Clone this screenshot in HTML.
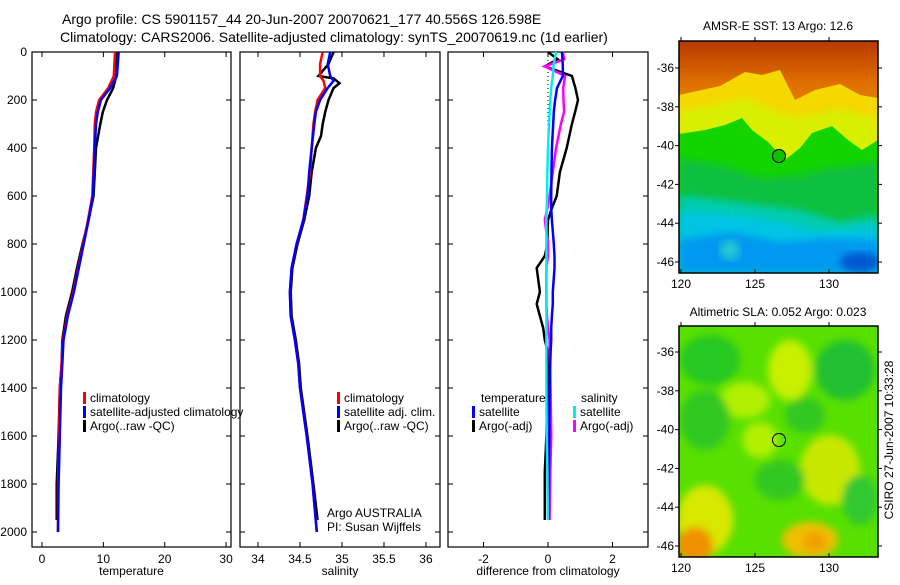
<!DOCTYPE html>
<html><head><meta charset="utf-8"><style>
body{margin:0;background:#fff;}
svg text{font-family:"Liberation Sans",sans-serif;fill:#000;}
</style></head><body>
<svg id="fig" width="900" height="580" viewBox="0 0 900 580" xmlns="http://www.w3.org/2000/svg">
<defs>
<linearGradient id="g1" x1="0" y1="0" x2="0" y2="1"><stop offset="0" stop-color="#b83800"/><stop offset="0.35" stop-color="#e07000"/><stop offset="1" stop-color="#f4a000"/></linearGradient>
<clipPath id="c1"><rect x="679" y="41" width="199" height="232"/></clipPath>
<clipPath id="c2"><rect x="679" y="326" width="199" height="231"/></clipPath>
<filter id="bl"><feGaussianBlur stdDeviation="4"/></filter>
</defs>
<text x="62" y="24" font-size="14">Argo profile: CS 5901157_44 20-Jun-2007 20070621_177 40.556S 126.598E</text>
<text x="60" y="42" font-size="14">Climatology: CARS2006. Satellite-adjusted climatology: synTS_20070619.nc (1d earlier)</text>
<g id="panels"></g>
<!-- Map 1 -->
<g clip-path="url(#c1)">
<rect x="679" y="41" width="199" height="120" fill="url(#g1)"/>
<path d="M679,95 L720,86 L745,72 L762,75 L780,70 L795,100 L815,90 L840,84 L860,95 L878,98 L878,273 L679,273Z" fill="#f4d800"/>
<path d="M679,112 L720,104 L745,98 L770,110 L795,118 L840,110 L878,118 L878,273 L679,273Z" fill="#d8f000" filter="url(#bl)"/>
<path d="M679,134 L705,130 L725,125 L742,118 L752,130 L768,142 L785,160 L800,148 L812,133 L832,126 L848,140 L862,150 L878,140 L878,273 L679,273Z" fill="#14d400"/>
<path d="M679,158 L720,165 L760,178 L800,175 L830,168 L878,162 L878,273 L679,273Z" fill="#10c040" filter="url(#bl)"/>
<path d="M679,195 L720,200 L760,205 L800,210 L840,222 L878,215 L878,273 L679,273Z" fill="#00ccb0" filter="url(#bl)"/>
<path d="M679,212 L730,215 L780,222 L820,232 L878,226 L878,273 L679,273Z" fill="#00c4e4" filter="url(#bl)"/>
<path d="M679,240 L730,232 L780,242 L830,238 L878,240 L878,273 L679,273Z" fill="#0098f0" filter="url(#bl)"/>
<ellipse cx="860" cy="262" rx="20" ry="10" fill="#0058d0" filter="url(#bl)"/>
<ellipse cx="730" cy="250" rx="10" ry="10" fill="#20c8d0" filter="url(#bl)"/>
</g>
<rect x="679" y="41" width="199" height="232" fill="none" stroke="#000" stroke-width="1.5"/>
<circle cx="779" cy="156" r="6.5" fill="#10c000" stroke="#000" stroke-width="1"/>
<text x="778" y="30" font-size="12" text-anchor="middle">AMSR-E SST: 13 Argo: 12.6</text>
<!-- Map 2 -->
<g clip-path="url(#c2)">
<rect x="679" y="326" width="199" height="231" fill="#58e000"/>
<g filter="url(#bl)">
<ellipse cx="710" cy="360" rx="30" ry="25" fill="#28c820"/>
<ellipse cx="845" cy="370" rx="30" ry="30" fill="#20c030"/>
<ellipse cx="790" cy="370" rx="22" ry="30" fill="#c8f000"/>
<ellipse cx="745" cy="400" rx="25" ry="18" fill="#b0f000"/>
<ellipse cx="805" cy="415" rx="20" ry="18" fill="#30c820"/>
<ellipse cx="705" cy="420" rx="25" ry="30" fill="#30c820"/>
<ellipse cx="760" cy="440" rx="18" ry="18" fill="#b0f000"/>
<ellipse cx="830" cy="470" rx="30" ry="35" fill="#c8e800"/>
<ellipse cx="780" cy="480" rx="25" ry="20" fill="#30c820"/>
<ellipse cx="860" cy="500" rx="18" ry="25" fill="#30c830"/>
<ellipse cx="705" cy="520" rx="28" ry="35" fill="#d8e800"/>
<ellipse cx="695" cy="545" rx="18" ry="18" fill="#f09000"/>
<ellipse cx="810" cy="540" rx="28" ry="18" fill="#f0c000"/>
<ellipse cx="815" cy="542" rx="12" ry="10" fill="#f0a000"/>
</g>
</g>
<rect x="679" y="326" width="199" height="231" fill="none" stroke="#000" stroke-width="1.5"/>
<circle cx="779" cy="440" r="6.5" fill="none" stroke="#000" stroke-width="1"/>
<text x="778" y="316" font-size="12" text-anchor="middle">Altimetric SLA: 0.052 Argo: 0.023</text>
<text transform="translate(893,440) rotate(-90)" font-size="12" text-anchor="middle">CSIRO 27-Jun-2007 10:33:28</text>
<g id="mapaxes"></g>
</svg>
<script>
// ---- data ----
const tempDepthClim = [0,100,150,200,250,300,400,600,700,800,900,1000,1100,1200,1300,1400,1600,1800,2000];
const tempClim      = [11.9,11.7,10.8,9.3,8.8,8.6,8.5,8.2,7.5,6.7,5.9,5.1,4.1,3.4,3.2,2.9,2.8,2.6,2.6];
const tempSatAdj    = [12.5,12.2,11.1,9.6,9.1,8.8,8.6,8.3,7.6,6.8,6.0,5.2,4.2,3.5,3.3,3.1,2.9,2.7,2.6];
const tempDepthArgo = [0,100,150,200,250,300,400,500,600,700,800,900,1000,1100,1200,1300,1400,1600,1800,1950];
const tempArgo      = [12.2,12.1,11.6,10.6,9.9,9.5,8.8,8.6,8.4,7.6,6.6,5.7,4.9,3.9,3.3,3.2,2.9,2.7,2.4,2.4];
const salDepth      = [0,50,100,120,150,200,250,300,400,500,600,700,800,900,1000,1100,1200,1300,1400,1600,1800,2000];
const salClim       = [34.77,34.74,34.74,34.78,34.80,34.71,34.68,34.66,34.64,34.62,34.58,34.54,34.46,34.40,34.38,34.39,34.44,34.48,34.50,34.58,34.65,34.70];
const salSatAdj     = [34.86,34.83,34.86,34.90,34.83,34.74,34.69,34.67,34.64,34.61,34.59,34.54,34.46,34.40,34.38,34.39,34.44,34.48,34.50,34.58,34.65,34.70];
const salDepthArgo  = [0,50,100,110,130,150,200,250,300,350,400,500,600,700,800,900,1000,1100,1200,1300,1400,1600,1800,1950];
const salArgo       = [34.90,34.84,34.72,34.90,34.97,34.90,34.84,34.80,34.77,34.75,34.69,34.64,34.61,34.55,34.47,34.41,34.39,34.40,34.45,34.49,34.51,34.59,34.66,34.71];
const diffDepth     = [0,30,60,100,150,200,250,300,400,500,600,650,700,800,850,900,1000,1050,1100,1150,1200,1250,1400,1600,1750,1950];
const dTempSat      = [0.43,0.45,0.46,0.46,0.28,0.22,0.18,0.16,0.12,0.11,0.10,0.10,0.12,0.18,0.2,0.2,0.15,0.15,0.12,0.1,0.1,0.08,0.05,0.04,0.03,0.02];
const dTempArgo     = [0.0,0.3,-0.1,0.74,0.85,0.93,0.84,0.74,0.58,0.37,0.27,0.12,0.0,-0.02,-0.1,-0.35,-0.25,-0.35,-0.25,-0.15,-0.1,0.0,-0.02,-0.05,-0.1,-0.1];
const dSalSat       = [0.25,0.2,0.17,0.15,0.1,0.07,0.05,0.03,0.0,-0.02,-0.03,-0.04,-0.05,-0.05,-0.05,-0.05,-0.05,-0.05,-0.05,-0.05,-0.05,-0.05,-0.05,-0.04,-0.02,0.0];
const dSalArgo      = [0.46,0.5,-0.1,0.53,0.47,0.48,0.5,0.4,0.25,0.15,0.05,-0.02,-0.1,0.0,0.0,-0.05,-0.05,-0.05,-0.03,0.0,0.05,0.05,0.08,0.1,0.07,0.05];
const depthTicks = [0,200,400,600,800,1000,1200,1400,1600,1800,2000];
const tempTicks = [0,10,20,30];
const salTicks = [34,34.5,35,35.5,36];
const diffTicks = [-2,0,2];
const lonTicks = [120,125,130];
const latTicks = [-36,-38,-40,-42,-44,-46];

const NS="http://www.w3.org/2000/svg";
const root=document.getElementById('panels');
function mk(tag,attrs,parent){const e=document.createElementNS(NS,tag);for(const k in attrs)e.setAttribute(k,attrs[k]);(parent||root).appendChild(e);return e;}
const Y0=52,Y1=547;
function yD(d){return 52+0.24*d;}
const panels=[
 {x0:32,x1:231,vmin:-1.63,vmax:30.8,ticks:tempTicks,label:'temperature',name:'temperature'},
 {x0:240,x1:440,vmin:33.786,vmax:36.167,ticks:salTicks,label:'salinity',name:'salinity'},
 {x0:448,x1:648,vmin:-3.1,vmax:3.1,ticks:diffTicks,label:'difference from climatology',name:'difference'}
];
panels.forEach((p,i)=>{p.x=v=>p.x0+(v-p.vmin)/(p.vmax-p.vmin)*(p.x1-p.x0);});
panels.forEach((p,i)=>{
 const g=mk('g',{});
 
 
 const fr=mk('rect',{x:p.x0,y:Y0,width:p.x1-p.x0,height:Y1-Y0,fill:'none',stroke:'#000','stroke-width':1.2},g);
 
 
 p.ticks.forEach(t=>{const x=p.x(t);
  mk('line',{x1:x,x2:x,y1:Y1,y2:Y1-5,stroke:'#000'},g);mk('line',{x1:x,x2:x,y1:Y0,y2:Y0+5,stroke:'#000'},g);
  const tx=mk('text',{x:x,y:Y1+16,'font-size':12,'text-anchor':'middle'},g);tx.textContent=t;
  
  
 });
 depthTicks.forEach(d=>{const y=yD(d);
  mk('line',{x1:p.x0,x2:p.x0+5,y1:y,y2:y,stroke:'#000'},g);mk('line',{x1:p.x1,x2:p.x1-5,y1:y,y2:y,stroke:'#000'},g);
  if(i===0){const tx=mk('text',{x:27,y:y+4,'font-size':12,'text-anchor':'end'},g);tx.textContent=d;
   
   }
 });
 const lb=mk('text',{x:(p.x0+p.x1)/2,y:575,'font-size':12,'text-anchor':'middle'},g);lb.textContent=p.label;
 
 
});
function line(p,depths,vals,color,name,w){
 const pts=depths.map((d,k)=>p.x(vals[k]).toFixed(1)+','+yD(d).toFixed(1)).join(' ');
 const l=mk('polyline',{points:pts,fill:'none',stroke:color,'stroke-width':w||2.5,'stroke-linejoin':'miter'});
 
 
}
const P=panels;
line(P[0],tempDepthArgo,tempArgo,'#000','temp-argo-line');
line(P[0],tempDepthClim,tempClim,'#f00','temp-climatology-line');
line(P[0],tempDepthClim,tempSatAdj,'#00f','temp-satellite-line');
line(P[1],salDepthArgo,salArgo,'#000','sal-argo-line');
line(P[1],salDepth,salClim,'#f00','sal-climatology-line');
line(P[1],salDepth,salSatAdj,'#00f','sal-satellite-line');
const zl=mk('line',{x1:P[2].x(0),x2:P[2].x(0),y1:Y0,y2:yD(400),stroke:'#000','stroke-dasharray':'1,3'});


line(P[2],diffDepth,dTempArgo,'#000','diff-temp-argo-line');
line(P[2],diffDepth,dSalArgo,'#f0f','diff-sal-argo-line');
line(P[2],diffDepth,dTempSat,'#00f','diff-temp-satellite-line');
line(P[2],diffDepth,dSalSat,'#0ee','diff-sal-satellite-line');
function leg(x,y,color,text,name){
 const g=mk('g',{});
 
 
 if(color)mk('rect',{x:x,y:y-10,width:3,height:12,fill:color},g);
 const t=mk('text',{x:x+7,y:y,'font-size':12},g);t.textContent=text;
}
leg(83,402,'#f00','climatology','legend-entry-climatology');
leg(83,416,'#00f','satellite-adjusted climatology','legend-entry-satellite');
leg(83,430,'#000','Argo(..raw -QC)','legend-entry-argo');
leg(337,402,'#f00','climatology','legend-entry-climatology-sal');
leg(337,416,'#00f','satellite adj. clim.','legend-entry-satellite-sal');
leg(337,430,'#000','Argo(..raw -QC)','legend-entry-argo-sal');
leg(474,402,null,'temperature','legend-header-temperature');
leg(472,416,'#00f','satellite','legend-entry-temp-satellite');
leg(472,430,'#000','Argo(-adj)','legend-entry-temp-argo');
leg(574,402,null,'salinity','legend-header-salinity');
leg(573,416,'#0ee','satellite','legend-entry-sal-satellite');
leg(573,430,'#f0f','Argo(-adj)','legend-entry-sal-argo');
const a1=mk('text',{x:327,y:517,'font-size':12});a1.textContent='Argo AUSTRALIA';


const a2=mk('text',{x:327,y:531,'font-size':12});a2.textContent='PI: Susan Wijffels';


// map axes
const ma=document.getElementById('mapaxes');
[[41,273,68,262],[326,557,352,546]].forEach((m,mi)=>{
 const lonX=l=>681+(l-120)*14.8;
 const latY=l=>m[2]+(-36-l)/10*(m[3]-m[2]);
 lonTicks.forEach(l=>{const x=lonX(l);
  mk('line',{x1:x,x2:x,y1:m[1],y2:m[1]-4,stroke:'#000'},ma);mk('line',{x1:x,x2:x,y1:m[0],y2:m[0]-4,stroke:'#000'},ma);
  const t=mk('text',{x:x,y:m[1]+15,'font-size':12,'text-anchor':'middle'},ma);t.textContent=l;
  
  
 });
 latTicks.forEach(l=>{const y=latY(l);
  mk('line',{x1:675,x2:679,y1:y,y2:y,stroke:'#000'},ma);mk('line',{x1:878,x2:882,y1:y,y2:y,stroke:'#000'},ma);
  const t=mk('text',{x:674,y:y+4,'font-size':12,'text-anchor':'end'},ma);t.textContent=l;
  
  
 });
});
</script>
</body></html>
